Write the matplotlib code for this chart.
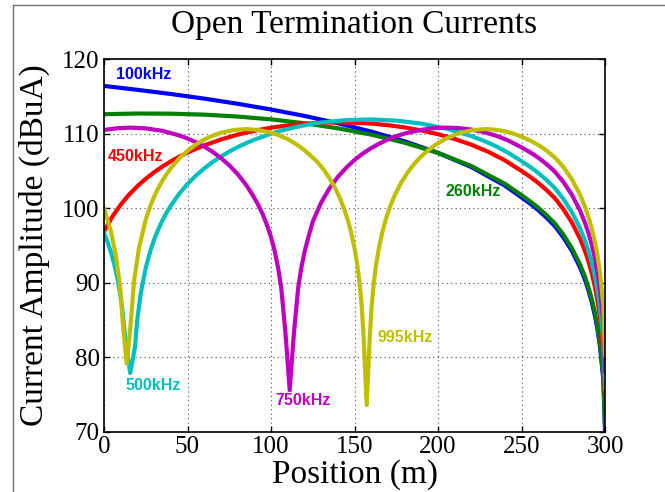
import matplotlib
matplotlib.use("Agg")
import matplotlib.pyplot as plt
from matplotlib.lines import Line2D

plt.rcParams['font.family'] = ['Liberation Serif', 'DejaVu Serif']

# values (position in m, current in dBuA)
x_100 = [0, 20, 40, 60, 80, 100, 120, 140, 160, 180, 200, 220, 240, 250, 255, 260, 265, 270, 275, 280,
         285, 288, 290, 292, 294, 295.5, 297, 299, 300]
y_100 = [116.39, 115.87, 115.31, 114.69, 114.0, 113.23, 112.37, 111.39, 110.27, 108.97, 107.42, 105.51,
         103.03, 101.45, 100.64, 99.74, 98.73, 97.59, 96.11, 94.34, 92.10, 90.41, 89.07, 87.49, 85.55,
         83.75, 81.47, 77.03, 70.3]

x_260 = x_100
y_260 = [112.60, 112.69, 112.67, 112.54, 112.29, 111.91, 111.39, 110.71, 109.86, 108.78, 107.41, 105.65,
         103.28, 101.75, 100.95, 100.07, 99.07, 97.95, 96.48, 94.72, 92.49, 90.81, 89.47, 87.89, 85.95,
         84.15, 81.87, 77.43, 70.7]

x_450 = [0, 5, 10, 15, 20, 25, 30, 35, 40, 45, 50, 60, 70, 80, 90, 100, 110, 120, 130, 140, 150, 160,
         170, 180, 190, 200, 210, 220, 230, 240, 250, 255, 260, 265, 270, 275, 280, 285, 288, 290, 292,
         294, 295.5, 297, 299, 300]
y_450 = [96.87, 98.87, 100.48, 101.82, 102.96, 103.95, 104.82, 105.59, 106.28, 106.90, 107.46, 108.42,
         109.21, 109.86, 110.38, 110.79, 111.10, 111.32, 111.45, 111.5, 111.46, 111.34, 111.13, 110.83,
         110.42, 109.92, 109.28, 108.51, 107.57, 106.42, 104.99, 104.24, 103.39, 102.43, 101.33, 99.89,
         98.15, 95.94, 94.26, 92.93, 91.35, 89.42, 87.62, 85.35, 80.91, 74.7]

x_500 = [0, 2, 4, 6, 8, 9.5, 11, 13, 15.7, 18.5, 20, 22, 25, 27.5, 30, 32.5, 35, 37.5, 40, 45, 50, 55,
         60, 65, 70, 75, 80, 85, 90, 100, 107.5, 115, 122.5, 130, 145, 160, 175, 190, 205, 220, 227.5,
         235, 242.5, 250, 255, 260, 265, 270, 275, 280, 285, 288, 290, 292, 294, 295.5, 297, 299, 300]
y_500 = [96.71, 95.55, 94.20, 92.60, 90.63, 88.78, 86.43, 81.78, 77.9, 81.33, 85.19, 88.58, 92.01,
         94.09, 95.77, 97.17, 98.36, 99.41, 100.34, 101.92, 103.24, 104.36, 105.33, 106.18, 106.92,
         107.59, 108.18, 108.71, 109.18, 109.98, 110.48, 110.88, 111.22, 111.48, 111.81, 111.9, 111.74,
         111.34, 110.67, 109.67, 109.03, 108.27, 107.37, 106.30, 105.56, 104.73, 103.78, 102.69,
         101.27, 99.53, 97.33, 95.66, 94.33, 92.75, 90.82, 89.02, 86.75, 82.31, 75.9]

x_750 = [0, 8, 16, 25, 35, 45, 50, 55, 60, 65, 70, 75, 80, 85, 88.5, 92, 95, 98, 100, 102.2, 104.3,
         106.2, 108.7, 111.2, 113.7, 116.2, 118.1, 120.2, 122.4, 125, 130, 135, 140, 145, 150, 155, 160,
         165, 170, 175, 180, 190, 197, 205, 212, 220, 227, 235, 242, 250, 255, 260, 265, 270, 275, 280,
         285, 288, 290, 292, 294, 295.5, 297, 299, 300]
y_750 = [110.49, 110.72, 110.8, 110.70, 110.37, 109.76, 109.35, 108.85, 108.26, 107.56, 106.73, 105.75,
         104.58, 103.15, 101.95, 100.6, 99.2, 97.5, 96.13, 94.25, 91.96, 89.17, 83.16, 75.6, 83.16, 89.17,
         91.96, 94.25, 96.13, 98.20, 100.74, 102.66, 104.18, 105.42, 106.46, 107.33, 108.06, 108.68,
         109.21, 109.65, 110.01, 110.51, 110.72, 110.8, 110.75, 110.54, 110.23, 109.70, 109.08, 108.16,
         107.52, 106.78, 105.91, 104.89, 103.54, 101.86, 99.70, 98.05, 96.73, 95.16, 93.24, 91.44,
         89.17, 84.74, 78.2]

x_995 = [0, 4, 7, 9.5, 11.5, 13.6, 15.7, 18, 21, 25, 27.5, 30, 32.5, 35, 38.5, 42, 46, 50, 55, 60, 65,
         70, 78, 85, 92, 100, 105, 110, 115, 120, 124, 128, 131.5, 135, 138, 141, 143.5, 146, 148, 150,
         151.5, 153, 154.3, 155.5, 157.3, 159.1, 160.3, 161.6, 163.1, 164.6, 166.6, 168.6, 171.1, 174,
         178, 182, 186, 190, 195, 200, 205, 210, 215, 221, 228, 234, 240, 245, 250, 255, 260, 265, 270,
         275, 280, 285, 288, 290, 292, 294, 295.5, 297, 299, 300]
y_995 = [99.98, 97.02, 93.81, 89.71, 83.95, 79.2, 83.80, 90.24, 94.75, 98.46, 100.14, 101.52, 102.70,
         103.70, 104.91, 105.92, 106.89, 107.70, 108.53, 109.20, 109.71, 110.11, 110.49, 110.6, 110.50,
         110.14, 109.75, 109.25, 108.60, 107.78, 106.98, 106.15, 105.19, 104.04, 102.87, 101.48, 100.09,
         98.40, 96.73, 94.66, 92.68, 90.08, 86.96, 82.53, 73.6, 82.53, 86.96, 90.08, 92.68, 94.66, 96.73,
         98.40, 100.09, 101.68, 103.44, 104.85, 106.00, 106.96, 107.94, 108.72, 109.35, 109.83, 110.19,
         110.47, 110.6, 110.53, 110.32, 110.01, 109.59, 109.09, 108.48, 107.72, 106.80, 105.54, 103.93,
         101.83, 100.21, 98.91, 97.35, 95.44, 93.65, 91.39, 86.96, 80.3]

labels = ['100kHz', '260kHz', '450kHz', '500kHz', '750kHz', '995kHz']
colors = ['#0000ff', '#008000', '#ff0000', '#00bfbf', '#bf00bf', '#bfbf00']
label_pos = [(7.2, 117.9), (204.2, 102.2), (2.2, 106.9), (12.8, 76.2), (102.4, 74.2), (163.9, 82.7)]

xs = [x_100, x_260, x_450, x_500, x_750, x_995]
ys = [y_100, y_260, y_450, y_500, y_750, y_995]

fig = plt.figure(figsize=(6.65, 4.92), dpi=100)
ax = fig.add_axes([104 / 665, 1 - 432 / 492, 501 / 665, 373 / 492])

for x, y, c in zip(xs, ys, colors):
    ax.plot(x, y, color=c, lw=3, solid_joinstyle='round')

for lab, (tx, ty), c in zip(labels, label_pos, colors):
    ax.text(tx, ty, lab, color=c, fontsize=11.5, fontweight='bold',
            family=['Liberation Sans', 'DejaVu Sans'], ha='left', va='center')

ax.set_xlim(0, 300)
ax.set_ylim(70, 120)
ax.set_xticks(range(0, 301, 50))
ax.set_yticks(range(70, 121, 10))
ax.grid(True, color='0.3', linestyle=(0, (1, 3)), linewidth=0.8)
ax.tick_params(direction='in', top=True, right=True, length=4, width=1, labelsize=18, pad=3)
for s in ax.spines.values():
    s.set_linewidth(1.2)

ax.set_xlabel('Position (m)', fontsize=24, va='center')
ax.xaxis.set_label_coords(0.5, -0.115)
ax.set_ylabel('Current Amplitude (dBuA)', fontsize=24, va='center')
ax.yaxis.set_label_coords(-0.138, 0.5)
fig.text(354.5 / 665, 1 - 25 / 492, 'Open Termination Currents', fontsize=24, ha='center', va='center')

# window frame lines of the original screenshot
fig.add_artist(Line2D([12.5 / 665, 12.5 / 665], [0, 1 - 5 / 492], transform=fig.transFigure, color='0.45', lw=1))
fig.add_artist(Line2D([12.5 / 665, 1], [1 - 5 / 492, 1 - 5 / 492], transform=fig.transFigure, color='0.45', lw=1))

fig.savefig('out.png', dpi=100)
